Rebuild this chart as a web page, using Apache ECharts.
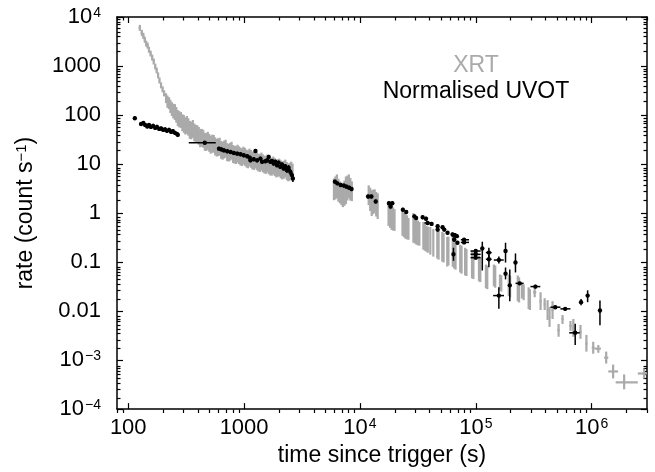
<!DOCTYPE html>
<html>
<head>
<meta charset="utf-8">
<script src="https://cdn.jsdelivr.net/npm/echarts@6/dist/echarts.min.js"></script>
<style>
html, body { margin: 0; padding: 0; background: #fff; }
#chart { width: 655px; height: 472px; }
</style>
</head>
<body>
<div id="chart"></div>
<script>
// rows: [time, timeLo, timeHi, rate, rateLo, rateHi]
var xrtRows = [
    [126, 123, 129, 5995, 5200, 6900],
    [131, 128, 134, 4750, 4130, 5460],
    [135, 132, 138, 4130, 3590, 4750],
    [139, 136, 142, 3430, 2980, 3950],
    [143, 140, 146, 2850, 2480, 3280],
    [147, 144, 150, 2600, 2260, 2990],
    [151, 148, 154, 2155, 1870, 2480],
    [156, 153, 159, 1790, 1560, 2060],
    [161, 158, 164, 1485, 1290, 1710],
    [166, 163, 169, 1233, 1070, 1420],
    [171, 168, 174, 977, 850, 1120],
    [176, 173, 179, 811, 705, 930],
    [181, 178, 184, 643, 560, 740],
    [186, 183, 189, 509, 440, 585],
    [192, 189, 195, 404, 350, 465],
    [198, 195, 201, 335, 290, 385],
    [204, 201, 207, 278, 240, 320],
    [212, 210, 214, 220, 175, 278],
    [218, 216, 220, 190, 140, 250],
    [225, 223, 227, 175, 132, 231],
    [231, 229, 233, 150, 110, 205],
    [238, 236, 240, 132, 95.5, 183],
    [245, 243, 247, 120, 85, 170],
    [253, 250, 256, 115, 79.3, 167],
    [260, 257, 263, 100, 70, 145],
    [268, 265, 271, 86.9, 59.8, 126],
    [276, 273, 279, 82, 56, 120],
    [285, 282, 288, 79.3, 54.6, 115],
    [293, 290, 296, 70, 47, 104],
    [302, 299, 305, 65.8, 43.3, 100],
    [311, 308, 314, 60, 40, 90],
    [321, 318, 324, 62.8, 41.3, 95.5],
    [330, 327, 333, 57, 38, 86],
    [340, 337, 343, 49.8, 32.7, 75.7],
    [350, 346, 354, 48, 32, 73],
    [361, 357, 365, 52.1, 34.3, 79.3],
    [372, 368, 376, 44, 29, 67],
    [383, 379, 387, 41.3, 27.2, 62.8],
    [394, 390, 398, 41, 27, 62],
    [406, 402, 410, 37.7, 24.8, 57.3],
    [418, 414, 422, 34, 22, 52],
    [431, 427, 435, 34.3, 22.5, 52.1],
    [444, 440, 448, 33, 21.5, 50],
    [458, 453, 463, 28.5, 18.7, 43.4],
    [472, 467, 477, 28, 18.5, 43],
    [486, 481, 491, 29.9, 19.6, 45.4],
    [500, 495, 505, 27, 17.8, 41],
    [515, 510, 520, 24.8, 16.3, 37.7],
    [531, 526, 536, 26, 17, 39.5],
    [547, 542, 552, 25.9, 17.1, 39.4],
    [563, 557, 569, 23, 15, 35],
    [580, 574, 586, 21.5, 14.2, 32.7],
    [597, 591, 603, 22, 14.5, 33.5],
    [615, 609, 621, 22.6, 14.9, 34.4],
    [634, 628, 640, 19.5, 12.8, 29.6],
    [653, 646, 660, 18.7, 12.3, 28.5],
    [673, 666, 680, 19.8, 13, 30],
    [693, 686, 700, 20.6, 13.5, 31.3],
    [714, 707, 721, 17.5, 11.5, 26.6],
    [735, 728, 742, 17.1, 11.2, 25.9],
    [757, 749, 765, 17.8, 11.7, 27],
    [780, 772, 788, 18.7, 12.3, 28.5],
    [803, 795, 811, 16, 10.5, 24.3],
    [827, 819, 835, 15.6, 10.2, 23.7],
    [852, 843, 861, 15.3, 10, 23.2],
    [878, 869, 887, 16.3, 10.7, 24.8],
    [904, 895, 913, 15.2, 10, 23],
    [931, 922, 940, 14.2, 9.33, 21.6],
    [959, 949, 969, 13.8, 9.1, 21],
    [988, 978, 998, 14.9, 9.77, 22.6],
    [1018, 1008, 1028, 14.0, 9.2, 21.3],
    [1049, 1039, 1059, 12.9, 8.49, 19.6],
    [1080, 1069, 1091, 12.5, 8.2, 19],
    [1112, 1101, 1123, 13.5, 8.89, 20.6],
    [1146, 1135, 1157, 12.8, 8.4, 19.4],
    [1180, 1168, 1192, 11.8, 7.74, 17.9],
    [1216, 1204, 1228, 11.5, 7.6, 17.5],
    [1253, 1240, 1266, 12.3, 8.11, 18.7],
    [1290, 1277, 1303, 11.4, 7.5, 17.3],
    [1329, 1316, 1342, 10.7, 7.05, 16.3],
    [1369, 1355, 1383, 10.5, 6.9, 16],
    [1410, 1396, 1424, 11.2, 7.40, 17.1],
    [1452, 1437, 1467, 10.3, 6.8, 15.7],
    [1496, 1481, 1511, 9.77, 6.43, 14.9],
    [1541, 1526, 1556, 9.6, 6.3, 14.6],
    [1587, 1571, 1603, 10.2, 6.73, 15.6],
    [1635, 1619, 1651, 9.5, 6.2, 14.4],
    [1684, 1667, 1701, 8.89, 5.85, 13.5],
    [1734, 1717, 1751, 8.8, 5.8, 13.4],
    [1786, 1768, 1804, 9.33, 6.14, 14.2],
    [1840, 1822, 1858, 8.7, 5.7, 13.2],
    [1895, 1876, 1914, 8.11, 5.33, 12.3],
    [1953, 1933, 1973, 8.3, 5.5, 12.6],
    [2012, 1992, 2032, 8.49, 5.58, 12.9],
    [2072, 2051, 2093, 7.8, 5.1, 11.9],
    [2133, 2112, 2154, 7.40, 4.86, 11.2],
    [2198, 2176, 2220, 7.6, 5.0, 11.6],
    [2265, 2242, 2288, 8.11, 5.33, 12.3],
    [2333, 2310, 2356, 7.2, 4.7, 11],
    [2404, 2380, 2428, 6.73, 4.43, 10.2],
    [2476, 2451, 2501, 7.0, 4.6, 10.6],
    [2551, 2525, 2577, 7.40, 4.86, 11.2],
    [2620, 2594, 2646, 6.7, 4.4, 10.2],
    [5960, 5900, 6020, 3.05, 1.83, 5.09],
    [6140, 6080, 6200, 3.3, 1.9, 5.6],
    [6320, 6260, 6380, 3.51, 2.01, 6.14],
    [6510, 6440, 6580, 2.9, 1.7, 5.0],
    [6710, 6640, 6780, 2.65, 1.59, 4.43],
    [6910, 6840, 6980, 2.5, 1.45, 4.2],
    [7120, 7050, 7190, 2.31, 1.32, 4.04],
    [7340, 7270, 7410, 2.6, 1.4, 4.6],
    [7560, 7480, 7640, 2.92, 1.52, 5.58],
    [7790, 7710, 7870, 3.2, 1.8, 5.8],
    [8020, 7940, 8100, 3.51, 2.01, 6.14],
    [8260, 8180, 8340, 3.0, 1.8, 5.2],
    [8510, 8430, 8590, 2.78, 1.75, 4.43],
    [11890, 11770, 12010, 2.31, 1.45, 3.68],
    [12250, 12130, 12370, 1.9, 1.1, 3.3],
    [12620, 12490, 12750, 1.59, 0.869, 2.92],
    [13000, 12870, 13130, 1.65, 0.95, 3.0],
    [13390, 13260, 13520, 1.75, 1.00, 3.05],
    [13800, 13660, 13940, 1.55, 0.85, 2.7],
    [14220, 14080, 14360, 1.38, 0.757, 2.53],
    [17650, 17470, 17830, 0.912, 0.546, 1.52],
    [18190, 18010, 18370, 0.85, 0.5, 1.45],
    [18740, 18550, 18930, 0.792, 0.454, 1.38],
    [19300, 19110, 19490, 0.76, 0.44, 1.3],
    [19880, 19680, 20080, 0.723, 0.433, 1.20],
    [23280, 23050, 23510, 0.600, 0.343, 1.05],
    [23990, 23750, 24230, 0.57, 0.32, 1.02],
    [24720, 24470, 24970, 0.546, 0.299, 1.00],
    [25460, 25210, 25710, 0.51, 0.29, 0.9],
    [26220, 25960, 26480, 0.475, 0.285, 0.792],
    [28910, 28620, 29200, 0.498, 0.248, 1.00],
    [29790, 29490, 30090, 0.46, 0.24, 0.88],
    [30690, 30380, 31000, 0.413, 0.226, 0.757],
    [31610, 31290, 31930, 0.39, 0.22, 0.7],
    [32550, 32220, 32880, 0.377, 0.216, 0.658],
    [35240, 34890, 35590, 0.343, 0.179, 0.658],
    [36310, 35950, 36670, 0.32, 0.17, 0.6],
    [37410, 37040, 37780, 0.299, 0.163, 0.546],
    [38500, 38120, 38880, 0.285, 0.155, 0.53],
    [40450, 40050, 40850, 0.272, 0.142, 0.521],
    [42950, 42520, 43380, 0.248, 0.129, 0.475],
    [46450, 45990, 46910, 0.237, 0.118, 0.475],
    [47700, 47220, 48180, 0.225, 0.112, 0.44],
    [51300, 50790, 51810, 0.206, 0.102, 0.413],
    [52700, 52170, 53230, 0.195, 0.098, 0.39],
    [56620, 56050, 57190, 0.163, 0.0811, 0.327],
    [58000, 57420, 58580, 0.17, 0.085, 0.33],
    [63200, 62570, 63830, 0.165, 0.080, 0.33],
    [65000, 64350, 65650, 0.156, 0.0739, 0.327],
    [66800, 66130, 67470, 0.14, 0.07, 0.29],
    [73300, 72570, 74030, 0.118, 0.0614, 0.226],
    [75300, 74550, 76050, 0.115, 0.058, 0.215],
    [80800, 80000, 81600, 0.102, 0.0533, 0.196],
    [83000, 82170, 83830, 0.098, 0.052, 0.185],
    [92700, 91770, 93630, 0.0890, 0.0465, 0.171],
    [95300, 94350, 96250, 0.085, 0.045, 0.16],
    [106400, 105300, 107500, 0.0739, 0.0404, 0.135],
    [109300, 108200, 110400, 0.07, 0.039, 0.125],
    [122200, 121000, 123400, 0.0509, 0.0292, 0.0890],
    [125500, 124200, 126800, 0.048, 0.028, 0.085],
    [143100, 141700, 144500, 0.0533, 0.0320, 0.0890],
    [147000, 145500, 148500, 0.05, 0.030, 0.085],
    [161400, 159800, 163000, 0.0385, 0.0265, 0.0558],
    [165800, 164100, 167500, 0.037, 0.025, 0.054],
    [192400, 190500, 194300, 0.0335, 0.0201, 0.0558],
    [197600, 195600, 199600, 0.031, 0.019, 0.052],
    [230000, 227700, 232300, 0.0292, 0.0159, 0.0533],
    [236000, 233600, 238400, 0.027, 0.015, 0.049],
    [250000, 247500, 252500, 0.026, 0.018, 0.037],
    [258700, 256100, 261300, 0.0242, 0.0167, 0.0351],
    [285500, 282600, 288400, 0.0183, 0.0110, 0.0305],
    [293000, 290100, 295900, 0.017, 0.0105, 0.028],
    [322000, 312000, 332000, 0.0242, 0.0192, 0.0305],
    [362000, 354000, 370000, 0.0159, 0.0105, 0.0242],
    [392600, 385000, 400000, 0.0138, 0.0105, 0.0183],
    [416000, 410000, 422000, 0.0105, 0.00658, 0.0167],
    [432500, 426000, 439000, 0.00757, 0.00475, 0.0120],
    [459000, 450000, 468000, 0.0105, 0.00689, 0.0159],
    [517600, 505000, 530000, 0.00407, 0.00299, 0.00546],
    [560000, 548000, 572000, 0.00689, 0.00546, 0.0083],
    [656000, 640000, 672000, 0.00498, 0.00395, 0.00628],
    [694000, 680000, 708000, 0.00454, 0.00299, 0.00689],
    [800000, 780000, 820000, 0.00377, 0.00272, 0.00521],
    [900000, 880000, 920000, 0.00216, 0.00149, 0.00327],
    [1030000, 1000000, 1060000, 0.00179, 0.00135, 0.00237],
    [1140000, 1060000, 1200000, 0.00171, 0.00141, 0.00203],
    [1333000, 1280000, 1390000, 0.00112, 0.00085, 0.00149],
    [1530000, 1390000, 1690000, 0.000586, 0.000423, 0.00081],
    [1905000, 1610000, 2500000, 0.000351, 0.000254, 0.000509],
    [2830000, 2500000, 3300000, 0.000533, 0.000423, 0.00067]
];

var uvotRows = [
    [114, 111, 117, 86, 79, 94],
    [129, 126, 132, 65.8, 60, 72],
    [135, 132, 138, 68.9, 63, 75],
    [140, 137, 143, 62.8, 57, 69],
    [146, 143, 149, 58.6, 53, 64],
    [151, 148, 154, 62.8, 57, 69],
    [157, 154, 160, 57.3, 52, 63],
    [164, 161, 167, 60.0, 55, 66],
    [171, 168, 174, 54.6, 50, 60],
    [177, 174, 180, 57.3, 52, 63],
    [185, 182, 188, 52.1, 47, 57],
    [192, 189, 195, 53.3, 48, 58],
    [200, 196, 204, 49.8, 45, 55],
    [208, 204, 212, 50.9, 46, 56],
    [216, 212, 220, 47.5, 43, 52],
    [225, 221, 229, 49.8, 45, 55],
    [234, 230, 238, 45.4, 41, 50],
    [243, 239, 247, 46.5, 42, 51],
    [253, 249, 257, 43.3, 39, 48],
    [263, 259, 267, 41.3, 37, 45],
    [268, 264, 272, 39.4, 36, 43],
    [458, 333, 569, 27.2, 25.3, 29.2],
    [607, 600, 614, 20.6, 18.8, 22.6],
    [637, 630, 644, 19.9, 18.1, 21.8],
    [670, 663, 677, 19.0, 17.3, 20.9],
    [716, 708, 724, 18.2, 16.6, 20.0],
    [765, 757, 773, 17.6, 16.0, 19.3],
    [816, 807, 825, 16.8, 15.3, 18.4],
    [873, 864, 882, 16.3, 14.8, 17.9],
    [931, 921, 941, 15.8, 14.4, 17.3],
    [993, 982, 1004, 15.1, 13.7, 16.6],
    [1064, 1053, 1075, 14.4, 13.1, 15.8],
    [1120, 1108, 1132, 13.5, 12.3, 14.8],
    [1134, 1122, 1146, 11.9, 10.8, 13.1],
    [1211, 1198, 1224, 12.5, 11.4, 13.7],
    [1253, 1240, 1266, 18.5, 16.8, 20.3],
    [1294, 1280, 1308, 11.9, 10.8, 13.1],
    [1383, 1368, 1398, 12.9, 11.7, 14.2],
    [1429, 1414, 1444, 11.1, 10.1, 12.2],
    [1527, 1511, 1543, 11.4, 10.4, 12.5],
    [1578, 1561, 1595, 11.9, 10.8, 13.1],
    [1631, 1614, 1648, 14.0, 12.7, 15.4],
    [1684, 1666, 1702, 11.1, 10.1, 12.2],
    [1742, 1724, 1760, 11.6, 10.5, 12.7],
    [1800, 1781, 1819, 10.2, 9.3, 11.2],
    [1859, 1839, 1879, 11.1, 10.1, 12.2],
    [1922, 1902, 1942, 9.46, 8.6, 10.4],
    [1986, 1965, 2007, 10.7, 9.7, 11.8],
    [2052, 2030, 2074, 8.77, 8.0, 9.6],
    [2123, 2100, 2146, 9.77, 8.9, 10.7],
    [2193, 2170, 2216, 8.11, 7.4, 8.9],
    [2265, 2241, 2289, 9.04, 8.2, 9.9],
    [2342, 2317, 2367, 7.50, 6.6, 8.5],
    [2421, 2395, 2447, 8.37, 7.4, 9.5],
    [2500, 2473, 2527, 6.95, 6.0, 8.0],
    [2586, 2558, 2614, 5.94, 5.0, 7.0],
    [2637, 2609, 2665, 5.09, 4.3, 6.0],
    [6080, 5990, 6170, 4.37, 4.0, 4.8],
    [6370, 6280, 6460, 4.04, 3.7, 4.4],
    [6810, 6710, 6910, 3.73, 3.4, 4.1],
    [7270, 7160, 7380, 3.63, 3.3, 4.0],
    [7660, 7550, 7770, 3.46, 3.15, 3.8],
    [8070, 7950, 8190, 3.30, 3.0, 3.6],
    [8460, 8340, 8580, 3.10, 2.8, 3.4],
    [11750, 11450, 12050, 2.17, 1.98, 2.38],
    [12550, 12230, 12870, 2.17, 1.98, 2.38],
    [13680, 13480, 13880, 1.72, 1.57, 1.89],
    [17780, 17500, 18060, 1.59, 1.45, 1.75],
    [19010, 18720, 19300, 1.59, 1.45, 1.75],
    [18370, 18100, 18640, 1.36, 1.24, 1.49],
    [23460, 23100, 23820, 1.17, 1.07, 1.28],
    [25070, 24700, 25440, 1.05, 0.96, 1.15],
    [29490, 29050, 29930, 0.857, 0.78, 0.94],
    [30520, 30070, 30970, 0.792, 0.72, 0.87],
    [34750, 34230, 35270, 0.819, 0.75, 0.90],
    [37150, 36600, 37700, 0.767, 0.70, 0.84],
    [38350, 35930, 41700, 0.628, 0.58, 0.68],
    [41500, 40880, 42120, 0.600, 0.55, 0.66],
    [46800, 46100, 47500, 0.538, 0.49, 0.59],
    [46800, 46100, 47500, 0.460, 0.42, 0.50],
    [51640, 50870, 52410, 0.514, 0.47, 0.56],
    [53370, 52570, 54170, 0.460, 0.42, 0.50],
    [57000, 56150, 57850, 0.395, 0.36, 0.43],
    [62950, 62010, 63890, 0.365, 0.33, 0.40],
    [65900, 64920, 66880, 0.354, 0.32, 0.39],
    [68600, 67580, 69620, 0.338, 0.31, 0.37],
    [65000, 64030, 65970, 0.289, 0.26, 0.32],
    [69400, 68360, 70440, 0.248, 0.23, 0.27],
    [64100, 63500, 64700, 0.144, 0.106, 0.196],
    [79140, 74200, 87350, 0.285, 0.27, 0.30],
    [79140, 74200, 87350, 0.252, 0.24, 0.265],
    [99800, 90000, 110000, 0.168, 0.155, 0.18],
    [99800, 90000, 110000, 0.144, 0.133, 0.155],
    [99800, 90000, 110000, 0.123, 0.113, 0.133],
    [113700, 112000, 115400, 0.19, 0.0673, 0.26],
    [129600, 122000, 137000, 0.156, 0.124, 0.196],
    [129600, 122000, 137000, 0.114, 0.078, 0.14],
    [158000, 143000, 174000, 0.11, 0.094, 0.13],
    [180400, 178000, 183000, 0.168, 0.0977, 0.248],
    [180400, 178000, 183000, 0.058, 0.0443, 0.0774],
    [158000, 141000, 175000, 0.0207, 0.0111, 0.0305],
    [196300, 194000, 199000, 0.0335, 0.0159, 0.0705],
    [219800, 217000, 223000, 0.0977, 0.0614, 0.150],
    [239000, 220000, 258700, 0.0368, 0.034, 0.040],
    [326600, 296000, 360000, 0.0316, 0.029, 0.0345],
    [484500, 440000, 537000, 0.0120, 0.011, 0.0131],
    [590000, 537000, 655000, 0.0111, 0.0102, 0.0121],
    [809000, 798000, 820000, 0.0152, 0.0131, 0.0176],
    [922000, 910000, 934000, 0.0207, 0.0152, 0.0265],
    [720000, 639000, 788000, 0.0036, 0.00203, 0.00553],
    [1178000, 1160000, 1196000, 0.0103, 0.00514, 0.0164]
];

// axis ranges and tick labels (exponents of 10)
var timeRange = [80, 3e6];
var rateRange = [1e-4, 1e4];
var xTickLabels = {2: '100', 3: '1000', 4: '10{s|4}', 5: '10{s|5}', 6: '10{s|6}'};
var yTickLabels = {4: '10{s|4}', 3: '1000', 2: '100', 1: '10', 0: '1', '-1': '0.1', '-2': '0.01', '-3': '10{s|\u22123}', '-4': '10{s|\u22124}'};

var FONT = '"Liberation Sans", Arial, Helvetica, sans-serif';
var GRAY = '#aaaaaa';

var xMin = Math.log10(timeRange[0]), xMax = Math.log10(timeRange[1]);
var yMin = Math.log10(rateRange[0]), yMax = Math.log10(rateRange[1]);

function majorTicks(lo, hi) {
    var out = [];
    for (var e = Math.ceil(lo - 1e-9); e <= hi + 1e-9; e++) out.push(e);
    return out;
}
function minorTicks(lo, hi) {
    var out = [];
    for (var e = Math.floor(lo) - 1; e <= Math.ceil(hi); e++) {
        for (var k = 2; k <= 9; k++) {
            var v = e + Math.log10(k);
            if (v >= lo - 1e-9 && v <= hi + 1e-9) out.push(v);
        }
    }
    return out;
}
var xMajor = majorTicks(xMin, xMax), xMinor = minorTicks(xMin, xMax);
var yMajor = majorTicks(yMin, yMax), yMinor = minorTicks(yMin, yMax);

var supRich = {s: {fontSize: 14, fontFamily: FONT, color: '#000', verticalAlign: 'top', padding: [0, 0, 0, 1]}};

function axis(kind, grid, pos, ticks, len, withLine, label) {
    var a = {
        type: 'value',
        gridIndex: grid,
        position: pos,
        min: kind === 'x' ? xMin : yMin,
        max: kind === 'x' ? xMax : yMax,
        axisLine: {show: withLine, onZero: false, lineStyle: {color: '#000', width: 1.5}},
        axisTick: {show: true, inside: true, length: len, customValues: ticks, lineStyle: {color: '#000', width: 1.2}},
        axisLabel: {show: false},
        splitLine: {show: false}
    };
    if (label) {
        a.axisLabel = {
            show: true,
            customValues: ticks,
            color: '#000',
            fontSize: 22,
            fontFamily: FONT,
            margin: kind === 'x' ? 8 : 16,
            formatter: function (v) {
                var key = Math.round(v);
                return (kind === 'x' ? xTickLabels : yTickLabels)[key];
            },
            rich: supRich
        };
    }
    return a;
}

var xAxes = [
    axis('x', 0, 'bottom', xMajor, 6, true, true),
    axis('x', 0, 'top', xMajor, 6, true, false),
    axis('x', 1, 'bottom', xMinor, 3.5, false, false),
    axis('x', 1, 'top', xMinor, 3.5, false, false)
];
xAxes[0].name = 'time since trigger (s)';
xAxes[0].nameLocation = 'middle';
xAxes[0].nameGap = 30;
xAxes[0].nameTextStyle = {color: '#000', fontSize: 23, fontFamily: FONT};

var yAxes = [
    axis('y', 0, 'left', yMajor, 6, true, true),
    axis('y', 0, 'right', yMajor, 6, true, false),
    axis('y', 1, 'left', yMinor, 3.5, false, false),
    axis('y', 1, 'right', yMinor, 3.5, false, false)
];
yAxes[0].name = 'rate (count s{s|\u22121})';
yAxes[0].nameLocation = 'middle';
yAxes[0].nameGap = 80;
yAxes[0].nameTextStyle = {color: '#000', fontSize: 23, fontFamily: FONT, rich: {s: {fontSize: 15, fontFamily: FONT, color: '#000', verticalAlign: 'top'}}};

function toLog(rows) {
    return rows.map(function (row) {
        return row.map(function (v) { return Math.log10(v); });
    });
}

function errorBars(color, width, dot) {
    return function (params, api) {
        var c = api.coord([api.value(0), api.value(3)]);
        var l = api.coord([api.value(1), api.value(3)]);
        var r = api.coord([api.value(2), api.value(3)]);
        var lo = api.coord([api.value(0), api.value(4)]);
        var hi = api.coord([api.value(0), api.value(5)]);
        var style = {stroke: color, lineWidth: width, fill: null};
        var children = [
            {type: 'line', shape: {x1: l[0], y1: l[1], x2: r[0], y2: r[1]}, style: style},
            {type: 'line', shape: {x1: hi[0], y1: hi[1], x2: lo[0], y2: lo[1]}, style: style}
        ];
        if (dot) {
            children.push({type: 'circle', shape: {cx: c[0], cy: c[1], r: dot}, style: {fill: color}});
        }
        return {type: 'group', children: children};
    };
}

var chart = echarts.init(document.getElementById('chart'));
var option = {
    animation: false,
    backgroundColor: '#fff',
    grid: [
        {left: 117, right: 8, top: 17, bottom: 59},
        {left: 117, right: 8, top: 17, bottom: 59}
    ],
    xAxis: xAxes,
    yAxis: yAxes,
    graphic: [
        {type: 'text', x: 476, y: 66, style: {text: 'XRT', fill: GRAY, font: '23px ' + FONT, align: 'center', verticalAlign: 'middle'}},
        {type: 'text', x: 476, y: 92, style: {text: 'Normalised UVOT', fill: '#000', font: '23px ' + FONT, align: 'center', verticalAlign: 'middle'}}
    ],
    series: [
        {
            name: 'XRT',
            type: 'custom',
            xAxisIndex: 0,
            yAxisIndex: 0,
            clip: true,
            silent: true,
            encode: {x: [0, 1, 2], y: [3, 4, 5]},
            renderItem: errorBars(GRAY, 2.2, 0),
            data: toLog(xrtRows),
            z: 2
        },
        {
            name: 'Normalised UVOT',
            type: 'custom',
            xAxisIndex: 0,
            yAxisIndex: 0,
            clip: true,
            silent: true,
            encode: {x: [0, 1, 2], y: [3, 4, 5]},
            renderItem: errorBars('#000', 1.5, 2.2),
            data: toLog(uvotRows),
            z: 3
        }
    ]
};
chart.setOption(option);
window.addEventListener('resize', function () {
    chart.resize();
});
</script>
</body>
</html>
